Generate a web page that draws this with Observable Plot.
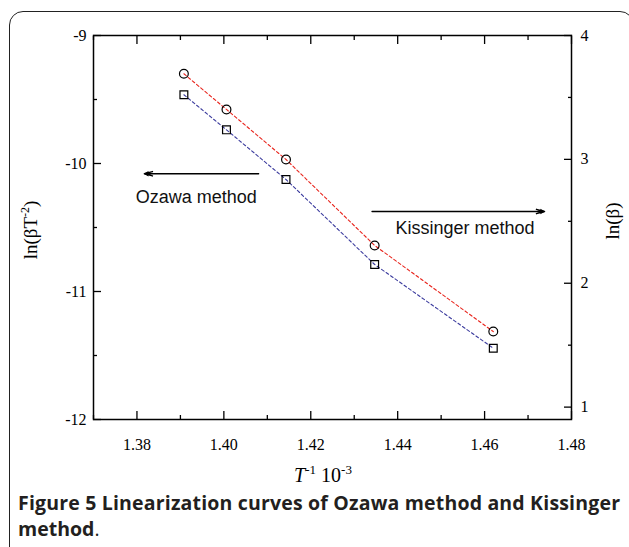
<!DOCTYPE html>
<html>
<head>
<meta charset="utf-8">
<script src="https://cdn.jsdelivr.net/npm/d3@7"></script>
<script src="https://cdn.jsdelivr.net/npm/@observablehq/plot@0.6"></script>
<style>
  html, body { margin: 0; padding: 0; background: #fff; }
  body { width: 629px; height: 547px; overflow: hidden; position: relative; }
  #card { position: absolute; left: 9px; top: 11px; width: 625px; height: 560px;
          border: 1.3px solid #222; border-radius: 14px; box-sizing: border-box; }
  #chart { position: absolute; left: 0; top: 0; }
  .cap { position: absolute; left: 18px; white-space: nowrap;
         font-family: "Open Sans", sans-serif; font-weight: bold; font-size: 19.5px;
         line-height: 26px; color: #231f20; }
  #cap1 { top: 490px; }
  #cap2 { top: 516px; }
</style>
</head>
<body>
<div id="card"></div>
<div id="chart"></div>
<div class="cap" id="cap1">Figure 5 Linearization curves of Ozawa method and Kissinger</div>
<div class="cap" id="cap2">method<span style="font-weight:normal">.</span></div>
<script>
// ---- data ----
const invT = [1.3908, 1.4006, 1.4143, 1.4347, 1.4620];          // T^-1 x 10^-3
const lnBetaT2 = [-9.463, -9.737, -10.125, -10.789, -11.443];    // squares, left axis
const lnBeta = [3.691, 3.403, 2.999, 2.305, 1.610];              // circles, right axis
const xTicks = [1.38, 1.40, 1.42, 1.44, 1.46, 1.48];
const xMinor = [1.37, 1.39, 1.41, 1.43, 1.45, 1.47];
const leftTicks = [-9, -10, -11, -12];
const leftMinor = [-9.5, -10.5, -11.5];
const rightTicks = [1, 2, 3, 4];
const rightMinor = [1.5, 2.5, 3.5];
const xDomain = [1.37, 1.48];
const leftDomain = [-12, -9];
const rightDomain = [0.9, 4];
const arrowNotes = [
  {x1: 1.4080, x2: 1.3817, y: -10.08},
  {x1: 1.4341, x2: 1.4738, y: -10.375}
];
const textNotes = [
  {x: 1.3797, y: -10.266, label: "Ozawa method"},
  {x: 1.4395, y: -10.508, label: "Kissinger method"}
];

// right axis values mapped onto the left-axis coordinate system
const toLeft = v => leftDomain[0] + (v - rightDomain[0]) * (leftDomain[1] - leftDomain[0]) / (rightDomain[1] - rightDomain[0]);

const squares = invT.map((x, i) => ({x, y: lnBetaT2[i]}));
const circles = invT.map((x, i) => ({x, y: toLeft(lnBeta[i])}));

const serif = "Liberation Serif, Times New Roman, serif";
const tk = {stroke: "#000", strokeWidth: 1.3, label: null, tickFormat: () => ""};
const lab = {fontFamily: serif, fontSize: 16, fill: "#000"};

const plot = Plot.plot({
  width: 629,
  height: 495,
  marginLeft: 93,
  marginRight: 58,
  marginTop: 35,
  marginBottom: 76,
  style: {background: "transparent", overflow: "visible"},
  x: {domain: xDomain, label: null},
  y: {domain: leftDomain, label: null},
  marks: [
    Plot.line(squares, {x: "x", y: "y", stroke: "#3c3c9e", strokeWidth: 1.1, strokeDasharray: "3,2.5"}),
    Plot.line(circles, {x: "x", y: "y", stroke: "#e8241c", strokeWidth: 1.1, strokeDasharray: "3,2.5"}),
    Plot.dot(squares, {x: "x", y: "y", symbol: "square", r: 4.4, stroke: "#000", strokeWidth: 1.2, fill: "none"}),
    Plot.dot(circles, {x: "x", y: "y", symbol: "circle", r: 4.4, stroke: "#000", strokeWidth: 1.2, fill: "none"}),
    // tick marks (inward)
    Plot.axisX(xTicks, {...tk, anchor: "bottom", tickSize: -8}),
    Plot.axisX(xMinor, {...tk, anchor: "bottom", tickSize: -4}),
    Plot.axisX(xTicks, {...tk, anchor: "top", tickSize: -8}),
    Plot.axisX(xMinor, {...tk, anchor: "top", tickSize: -4}),
    Plot.axisY(leftTicks, {...tk, anchor: "left", tickSize: -8}),
    Plot.axisY(leftMinor, {...tk, anchor: "left", tickSize: -4}),
    Plot.axisY(rightTicks.map(toLeft), {...tk, anchor: "right", tickSize: -8}),
    Plot.axisY(rightMinor.map(toLeft), {...tk, anchor: "right", tickSize: -4}),
    // tick labels
    Plot.text(xTicks, {...lab, x: d => d, frameAnchor: "bottom", lineAnchor: "top", dy: 19, text: d3.format(".2f")}),
    Plot.text(leftTicks, {...lab, y: d => d, frameAnchor: "left", textAnchor: "end", dx: -7, text: d => String(d)}),
    Plot.text(rightTicks, {...lab, y: d => toLeft(d), frameAnchor: "right", textAnchor: "start", dx: 9, text: d => String(d)}),
    Plot.frame({stroke: "#000", strokeWidth: 1.5}),
    // annotations
    Plot.arrow(arrowNotes, {x1: "x1", y1: "y", x2: "x2", y2: "y", stroke: "#000", strokeWidth: 1.4, headLength: 9, headAngle: 30}),
    Plot.dot(arrowNotes.slice(0, 1), {x: "x2", y: "y", symbol: "triangle2", r: 2.6, rotate: -90, dx: 2.6, fill: "#000"}),
    Plot.dot(arrowNotes.slice(1, 2), {x: "x2", y: "y", symbol: "triangle2", r: 2.6, rotate: 90, dx: -2.6, fill: "#000"}),
    Plot.text(textNotes, {x: "x", y: "y", text: "label", textAnchor: "start", lineAnchor: "middle",
      fontFamily: "Liberation Sans, Arial, sans-serif", fontSize: 18, fill: "#111"})
  ]
});
document.getElementById("chart").appendChild(plot);

// axis titles with superscripts
const svg = d3.select(plot);
const xt = svg.append("text").attr("x", 323).attr("y", 482).attr("text-anchor", "middle")
  .attr("font-family", serif).attr("font-size", 20).attr("fill", "#000");
xt.append("tspan").attr("font-style", "italic").text("T");
xt.append("tspan").attr("dy", -8).attr("font-size", 13).text("-1");
xt.append("tspan").attr("dy", 8).attr("dx", 5).text("10");
xt.append("tspan").attr("dy", -8).attr("font-size", 13).text("-3");

const lt = svg.append("text").attr("transform", "translate(37,230) rotate(-90)").attr("text-anchor", "middle")
  .attr("font-family", serif).attr("font-size", 19).attr("fill", "#000");
lt.append("tspan").text("ln(βT");
lt.append("tspan").attr("dy", -8).attr("font-size", 12).text("-2");
lt.append("tspan").attr("dy", 8).text(")");

svg.append("text").attr("transform", "translate(619,221) rotate(-90)").attr("text-anchor", "middle")
  .attr("font-family", serif).attr("font-size", 19).attr("fill", "#000").text("ln(β)");

// fit the first caption line to the reference's justified width
const cap1 = document.getElementById("cap1");
const target = 602;
const natural = cap1.getBoundingClientRect().width;
const n = cap1.textContent.length;
cap1.style.letterSpacing = ((target - natural) / (n - 1)) + "px";
</script>
</body>
</html>
